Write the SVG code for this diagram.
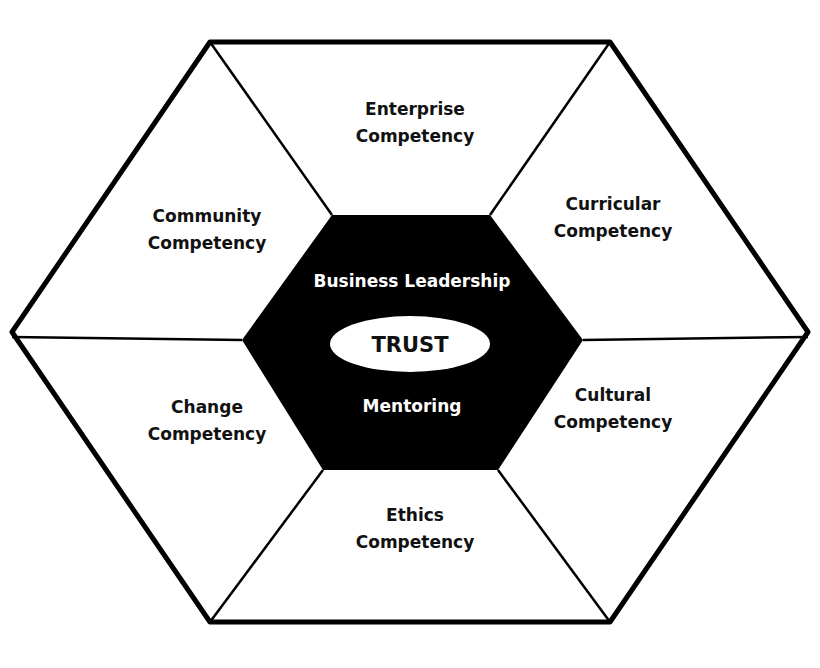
<svg xmlns="http://www.w3.org/2000/svg" width="820" height="668" viewBox="0 0 820 668">
<style>
.t{font-family:"DejaVu Sans","Liberation Sans",sans-serif;font-weight:bold;font-size:17px;text-anchor:middle;fill:#111}
.w{fill:#fff}
.ln{stroke:#000;stroke-width:2.5;fill:none}
</style>
<rect width="820" height="668" fill="#fff"/>
<g id="outer"><polygon points="210,42 610,42 808,332 610,622 210,622 12,332" fill="#fff" stroke="#000" stroke-width="5" stroke-linejoin="round"/></g>
<g id="connectors">
<line class="ln" x1="210" y1="42" x2="332" y2="215"/>
<line class="ln" x1="610" y1="42" x2="490" y2="215"/>
<line class="ln" x1="808" y1="337" x2="583" y2="340"/>
<line class="ln" x1="610" y1="622" x2="498" y2="470"/>
<line class="ln" x1="210" y1="622" x2="323" y2="470"/>
<line class="ln" x1="12" y1="337" x2="242" y2="340"/>
</g>
<g id="center">
<polygon points="332,215 490,215 583,340 498,470 323,470 242,340" fill="#000"/>
<text class="t w" x="412" y="287">Business Leadership</text>
<text class="t w" x="412" y="412">Mentoring</text>
<ellipse cx="410" cy="344" rx="80" ry="28" fill="#fff"/>
<text class="t" x="410" y="352" style="font-size:21px">TRUST</text>
</g>
<g id="enterprise"><text class="t" x="415" y="115">Enterprise</text><text class="t" x="415" y="142">Competency</text></g>
<g id="community"><text class="t" x="207" y="222">Community</text><text class="t" x="207" y="249">Competency</text></g>
<g id="curricular"><text class="t" x="613" y="210">Curricular</text><text class="t" x="613" y="237">Competency</text></g>
<g id="change"><text class="t" x="207" y="413">Change</text><text class="t" x="207" y="440">Competency</text></g>
<g id="cultural"><text class="t" x="613" y="401">Cultural</text><text class="t" x="613" y="428">Competency</text></g>
<g id="ethics"><text class="t" x="415" y="521">Ethics</text><text class="t" x="415" y="548">Competency</text></g>
</svg>
